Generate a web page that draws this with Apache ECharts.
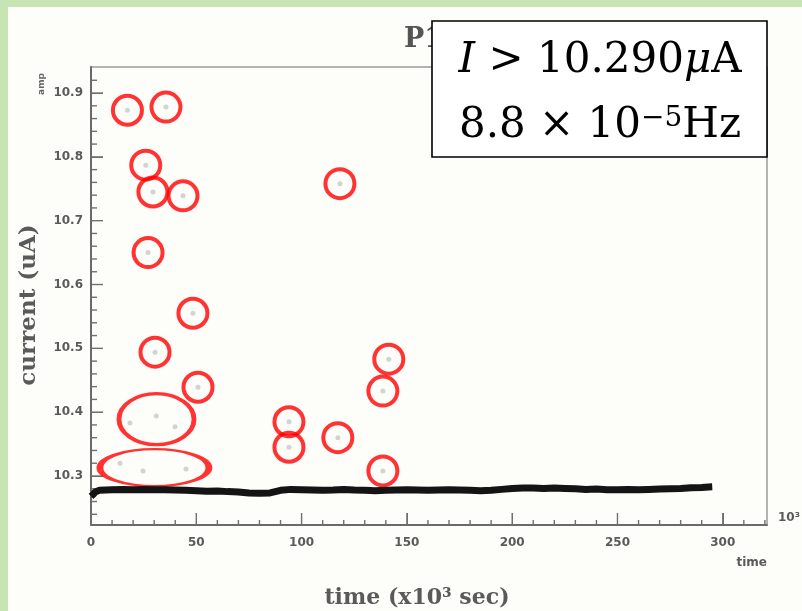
<!DOCTYPE html>
<html>
<head>
<meta charset="utf-8">
<title>P1 current</title>
<script src="https://cdn.jsdelivr.net/npm/echarts@6/dist/echarts.min.js"></script>
<style>
  html, body { margin: 0; padding: 0; background: #fdfdfa; }
  #chart { width: 802px; height: 611px; }
</style>
</head>
<body>
<div id="chart"></div>
<script>
// Beam current monitor: time in units of 10^3 s, current in uA

// Steady beam current (dense trace), read along its centre
const bandTime = [0, 1, 2, 4, 7, 10, 15, 20, 25, 30, 35, 40, 45, 50, 55, 60, 65, 70, 75, 80,
  85, 90, 95, 100, 105, 110, 115, 120, 125, 130, 135, 140, 145, 150, 155, 160, 165, 170,
  175, 180, 185, 190, 195, 200, 205, 210, 215, 220, 225, 230, 235, 240, 245, 250, 255,
  260, 265, 270, 275, 280, 285, 290, 295];
const bandCurrent = [10.268, 10.271, 10.275, 10.2775, 10.278, 10.2785, 10.279, 10.2785,
  10.279, 10.2785, 10.2785, 10.278, 10.2775, 10.277, 10.276, 10.2765, 10.2755, 10.275,
  10.2735, 10.273, 10.2735, 10.2775, 10.279, 10.2785, 10.278, 10.2775, 10.278, 10.279,
  10.278, 10.2775, 10.277, 10.2775, 10.278, 10.2785, 10.278, 10.2775, 10.278, 10.2785,
  10.278, 10.2775, 10.277, 10.2775, 10.279, 10.2805, 10.281, 10.281, 10.2805, 10.281,
  10.2805, 10.28, 10.279, 10.2795, 10.2785, 10.2785, 10.279, 10.2785, 10.279, 10.2795,
  10.28, 10.2805, 10.2815, 10.282, 10.283];

// Isolated readings above the threshold
const spikeTime = [17.3, 35.6, 26.0, 29.4, 43.7, 27.1, 48.4, 30.4, 50.8, 94.0, 94.0, 117.2,
  118.2, 141.4, 138.6, 138.6, 18.5, 39.9, 31.0, 13.8, 24.7, 45.1];
const spikeCurrent = [10.873, 10.878, 10.787, 10.745, 10.739, 10.650, 10.555, 10.494, 10.439,
  10.385, 10.345, 10.360, 10.758, 10.483, 10.433, 10.308, 10.383, 10.377, 10.394, 10.320,
  10.308, 10.311];

// Single readings that are ringed
const ringTime = [17.3, 35.6, 26.0, 29.4, 43.7, 27.1, 48.4, 30.4, 50.8, 94.0, 94.0, 117.2,
  118.2, 141.4, 138.6, 138.6];
const ringCurrent = [10.873, 10.878, 10.787, 10.745, 10.739, 10.650, 10.555, 10.494, 10.439,
  10.385, 10.345, 10.360, 10.758, 10.483, 10.433, 10.308];

// Clusters that are ringed together
const clusterTime = [31.1, 30.1];
const clusterCurrent = [10.389, 10.313];

// Tick positions (labelled majors and unlabelled minors)
const xMajorTicks = [0, 50, 100, 150, 200, 250, 300];
const xMinorTicks = [10, 20, 30, 40, 60, 70, 80, 90, 110, 120, 130, 140, 160, 170, 180, 190,
  210, 220, 230, 240, 260, 270, 280, 290, 310, 320];
const yMajorTicks = [10.3, 10.4, 10.5, 10.6, 10.7, 10.8, 10.9];
const yMinorTicks = [10.24, 10.26, 10.28, 10.32, 10.34, 10.36, 10.38, 10.42, 10.44, 10.46,
  10.48, 10.52, 10.54, 10.56, 10.58, 10.62, 10.64, 10.66, 10.68, 10.72, 10.74, 10.76,
  10.78, 10.82, 10.84, 10.86, 10.88, 10.92];

const X_MIN = 0, X_MAX = 321;
const Y_MIN = 10.2232, Y_MAX = 10.9408;

const zip = (a, b) => a.map((v, i) => [v, b[i]]);

const ellipsePath = 'path://M0,50 A50,50 0 1,1 100,50 A50,50 0 1,1 0,50 Z';
const clusterSizes = [[75, 51], [109, 37]];

const tickColor = '#707070';
const frameColor = '#6a6a6a';
const labelFont = { color: '#5a5a5a', fontSize: 12, fontFamily: 'DejaVu Sans', fontWeight: 'bold' };

// Inward tick marks as thin rectangles, placed through the axes' scales
function xTicks(values, len) {
  return {
    type: 'custom',
    data: values.map(v => [v, Y_MIN]),
    renderItem: (params, api) => {
      const c = api.coord([api.value(0), api.value(1)]);
      return { type: 'rect', shape: { x: c[0] - 0.7, y: c[1] - len, width: 1.4, height: len },
        style: { fill: tickColor } };
    }
  };
}
function yTicks(values, len) {
  return {
    type: 'custom',
    data: values.map(v => [X_MIN, v]),
    renderItem: (params, api) => {
      const c = api.coord([api.value(0), api.value(1)]);
      return { type: 'rect', shape: { x: c[0], y: c[1] - 0.7, width: len, height: 1.4 },
        style: { fill: tickColor } };
    }
  };
}

const chart = echarts.init(document.getElementById('chart'));

chart.setOption({
  animation: false,
  grid: { left: 91, right: 35, top: 67, bottom: 86, show: true, borderColor: frameColor },
  xAxis: {
    type: 'value', min: X_MIN, max: X_MAX, interval: 50,
    axisLine: { show: true, lineStyle: { color: frameColor, width: 2 } },
    axisTick: { show: true, inside: true, length: 12, lineStyle: { color: tickColor } },
    axisLabel: Object.assign({ margin: 12, showMaxLabel: false }, labelFont),
    splitLine: { show: true, lineStyle: { color: 'rgba(0,0,0,0)' } }
  },
  yAxis: {
    type: 'value', min: Y_MIN, max: Y_MAX, splitNumber: 7,
    axisLine: { show: true, lineStyle: { color: frameColor, width: 2 } },
    axisTick: { show: true, inside: true, length: 12, lineStyle: { color: tickColor } },
    axisLabel: Object.assign({ margin: 8, showMinLabel: false, showMaxLabel: false,
      formatter: v => v.toFixed(1) }, labelFont),
    splitLine: { show: true, lineStyle: { color: 'rgba(0,0,0,0)' } }
  },
  series: [
    xTicks(xMajorTicks, 12),
    xTicks(xMinorTicks, 5),
    yTicks(yMajorTicks, 12),
    yTicks(yMinorTicks, 6),
    {
      name: 'beam current', type: 'line', data: zip(bandTime, bandCurrent),
      showSymbol: false, lineStyle: { color: '#141414', width: 7 }
    },
    {
      name: 'spikes', type: 'scatter', data: zip(spikeTime, spikeCurrent),
      symbol: 'circle', symbolSize: 5, itemStyle: { color: '#c8c8c8' }
    },
    {
      name: 'rings', type: 'scatter', data: zip(ringTime, ringCurrent),
      symbol: 'circle', symbolSize: 29,
      itemStyle: { color: 'rgba(0,0,0,0)', borderColor: '#ff0000', borderWidth: 4 }
    },
    {
      name: 'cluster rings', type: 'scatter', data: zip(clusterTime, clusterCurrent),
      symbol: ellipsePath, symbolKeepAspect: false,
      symbolSize: (val, p) => clusterSizes[p.dataIndex],
      itemStyle: { color: 'rgba(0,0,0,0)', borderColor: '#ff0000', borderWidth: 4 }
    }
  ],
  graphic: [
    // frame of the page
    { type: 'rect', shape: { x: 0, y: 0, width: 8, height: 611 }, style: { fill: '#c7e4b3' } },
    { type: 'rect', shape: { x: 0, y: 0, width: 802, height: 7 }, style: { fill: '#c7e4b3' } },
    // title (mostly under the threshold box)
    { type: 'text', x: 404, y: 26, style: { text: 'P1', font: 'bold 27px "DejaVu Serif"', fill: '#555' } },
    // axis titles
    { type: 'text', x: 417, y: 598, style: { text: 'time (x10³ sec)', font: 'bold 22px "DejaVu Serif"',
      fill: '#5a5a5a', align: 'center', verticalAlign: 'middle' } },
    { type: 'text', x: 29, y: 305, rotation: Math.PI / 2, style: { text: 'current (uA)',
      font: 'bold 23px "DejaVu Serif"', fill: '#5a5a5a', align: 'center', verticalAlign: 'middle' } },
    { type: 'text', x: 42, y: 84, rotation: Math.PI / 2, style: { text: 'amp', font: 'bold 9px "DejaVu Sans"',
      fill: '#666', align: 'center', verticalAlign: 'middle' } },
    { type: 'text', x: 767, y: 563, style: { text: 'time', font: 'bold 12px "DejaVu Sans"',
      fill: '#5a5a5a', align: 'right', verticalAlign: 'middle' } },
    { type: 'text', x: 778, y: 518, style: { text: '10³', font: 'bold 12px "DejaVu Sans"',
      fill: '#5a5a5a', align: 'left', verticalAlign: 'middle' } },
    // threshold / rate box
    { type: 'rect', shape: { x: 432, y: 21, width: 335, height: 136 },
      style: { fill: '#ffffff', stroke: '#000', lineWidth: 1.6 } },
    { type: 'text', x: 600, y: 61, style: {
      text: '{i|I} > 10.290{i|μ}A', align: 'center', verticalAlign: 'middle',
      font: '42px "DejaVu Serif"', fill: '#000',
      rich: { i: { fontStyle: 'italic', fontSize: 42, fontFamily: 'DejaVu Serif', fill: '#000' } }
    } },
    { type: 'text', x: 600, y: 126, style: {
      text: '8.8 × 10{s|−5}Hz', align: 'center', verticalAlign: 'middle',
      font: '42px "DejaVu Serif"', fill: '#000',
      rich: { s: { fontSize: 28, fontFamily: 'DejaVu Serif', verticalAlign: 'top', lineHeight: 18, fill: '#000' } }
    } }
  ]
});
</script>
</body>
</html>
